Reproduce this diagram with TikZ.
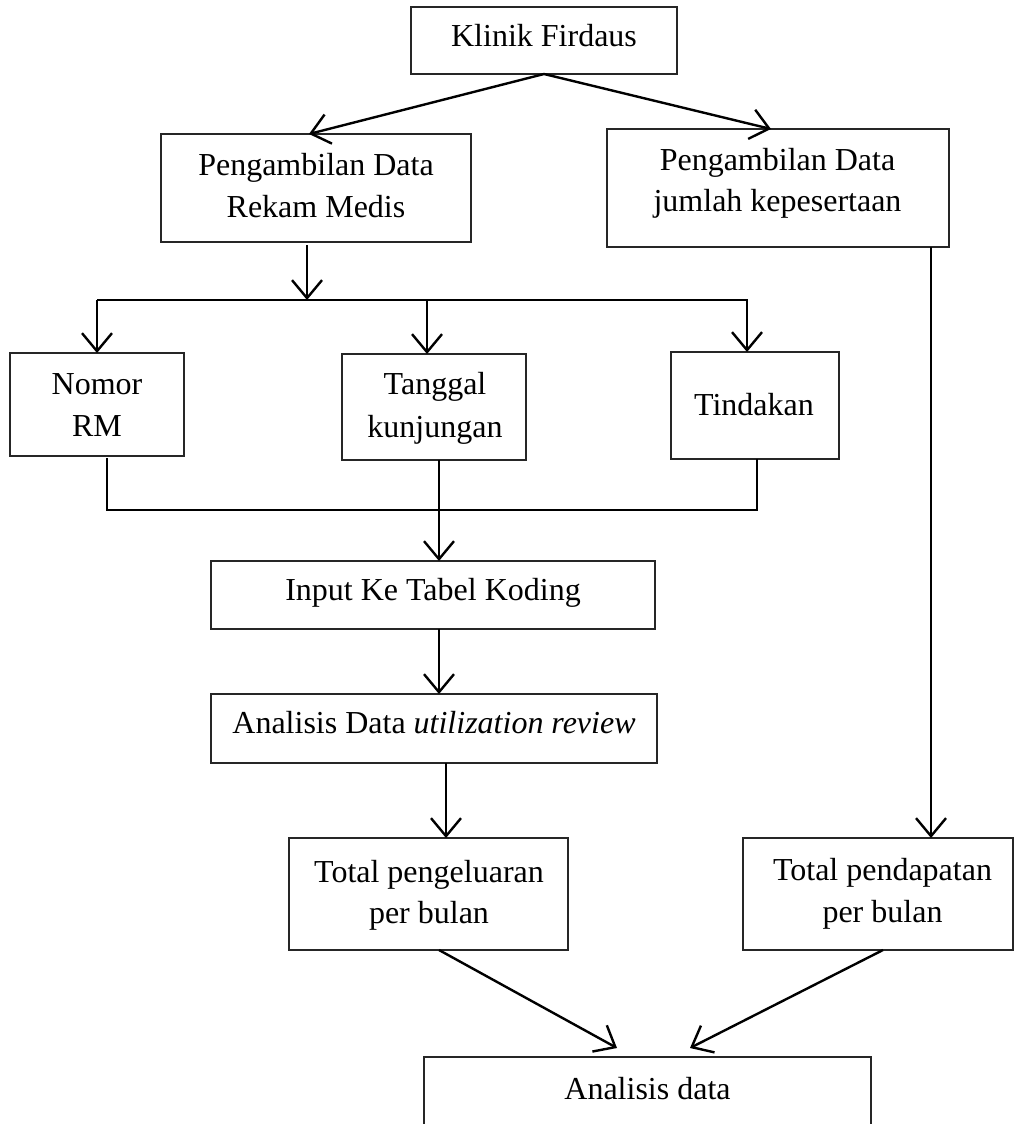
\documentclass[tikz,border=0pt]{standalone}
\usepackage{fontspec}
\setmainfont{Liberation Serif}
\usetikzlibrary{arrows.meta}
\begin{document}
\begin{tikzpicture}[x=1pt,y=-1pt,
  box/.style={draw=black!85, line width=1.3pt, inner sep=0pt, outer sep=0pt, rectangle},
  txt/.style={anchor=base, inner sep=0pt, font=\fontsize{32}{42}\selectfont},
  conn/.style={draw=black, line width=2.4pt},
  arr/.style={conn, -{Straight Barb[length=18pt,width=30pt]}}]
\useasboundingbox (0,0) rectangle (1014,1124);
\fill[white] (0,0) rectangle (1014,1124);
% boxes
\node[box, minimum width=266pt, minimum height=67pt] (klinik) at (544,40.5) {};
\node[box, minimum width=310pt, minimum height=108pt] (rekam) at (316,188) {};
\node[box, minimum width=342pt, minimum height=118pt] (kep) at (778,188) {};
\node[box, minimum width=174pt, minimum height=103pt] (nomor) at (97,404.5) {};
\node[box, minimum width=184pt, minimum height=106pt] (tanggal) at (434,407) {};
\node[box, minimum width=168pt, minimum height=107pt] (tindakan) at (755,405.5) {};
\node[box, minimum width=444pt, minimum height=68pt] (input) at (433,595) {};
\node[box, minimum width=446pt, minimum height=69pt] (analisis) at (434,728.5) {};
\node[box, minimum width=279pt, minimum height=112pt] (keluar) at (428.5,894) {};
\node[box, minimum width=270pt, minimum height=112pt] (dapat) at (878,894) {};
\node[box, minimum width=447pt, minimum height=83pt] (adata) at (647.5,1098.5) {};
% texts
\node[txt] (tklinik) at (544,47) {Klinik Firdaus};
\node[txt] (trekam1) at (316,175) {Pengambilan Data};
\node[txt] (trekam2) at (316,217) {Rekam Medis};
\node[txt] (tkep1) at (777.5,170) {Pengambilan Data};
\node[txt] (tkep2) at (777.5,211) {jumlah kepesertaan};
\node[txt] (tnomor1) at (97,394) {Nomor};
\node[txt] (tnomor2) at (97,436) {RM};
\node[txt] (ttgl1) at (435,394) {Tanggal};
\node[txt] (ttgl2) at (435,437) {kunjungan};
\node[txt] (ttind) at (754,415) {Tindakan};
\node[txt] (tinput) at (433,600) {Input Ke Tabel Koding};
\node[txt] (tanalisis) at (434,733) {Analisis Data \textit{utilization review}};
\node[txt] (tkeluar1) at (429,882) {Total pengeluaran};
\node[txt] (tkeluar2) at (429,923) {per bulan};
\node[txt] (tdapat1) at (882.5,880) {Total pendapatan};
\node[txt] (tdapat2) at (882.5,922) {per bulan};
\node[txt] (tadata) at (647.5,1099) {Analisis data};
% connectors
\draw[arr] (klinik.south) -- ([xshift=-7pt]rekam.north);
\draw[arr] (klinik.south) -- ([xshift=-7pt]kep.north);
\coordinate (busL) at (97,300);
\coordinate (busR) at (748,300);
\draw[arr] ([xshift=-9pt,yshift=-3pt]rekam.south) -- ([xshift=-9pt]rekam.south |- busL);
\draw[conn] (busL) -- (busR);
\draw[arr] (busL) -- (nomor.north);
\draw[arr] ([xshift=-7pt]tanggal.north |- busL) -- ([xshift=-7pt]tanggal.north);
\draw[arr] ([xshift=-8pt]tindakan.north |- busR) -- ([xshift=-8pt]tindakan.north);
\coordinate (busB) at (0,510);
\draw[conn] ([xshift=10pt,yshift=-2pt]nomor.south) -- ([xshift=10pt]nomor.south |- busB)
  -- ([xshift=2pt]tindakan.south |- busB) -- ([xshift=2pt]tindakan.south);
\draw[arr] ([xshift=5pt]tanggal.south) -- ([xshift=5pt]tanggal.south |- input.north);
\draw[arr] ([xshift=6pt]input.south) -- ([xshift=6pt]input.south |- analisis.north);
\draw[arr] ([xshift=12pt]analisis.south) -- ([xshift=12pt]analisis.south |- keluar.north);
\draw[arr] ([xshift=153pt]kep.south) -- ([xshift=153pt]kep.south |- dapat.north);
\draw[arr] ([xshift=10.5pt]keluar.south) -- ([xshift=-30.5pt,yshift=9pt]adata.north);
\draw[arr] ([xshift=5pt]dapat.south) -- ([xshift=42.5pt,yshift=9pt]adata.north);
\end{tikzpicture}
\end{document}
